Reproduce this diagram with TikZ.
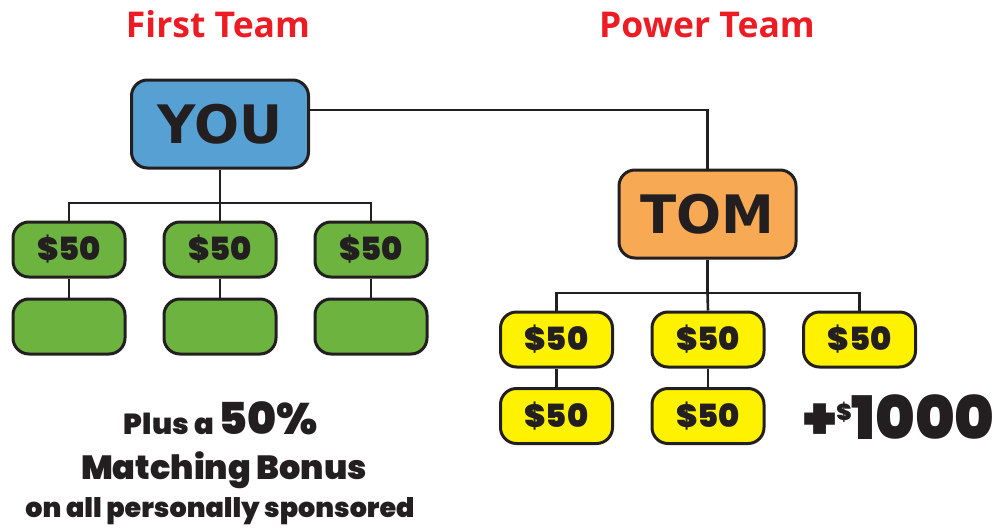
\documentclass[tikz,border=0pt]{standalone}
\usepackage{fontspec}
\setmainfont{DejaVu Sans}
\newfontfamily\titlefont{Open Sans}
\newfontfamily\boxfont{DejaVu Sans}
\newfontfamily\popfont{Poppins Black}
\definecolor{ink}{RGB}{35,31,32}
\definecolor{tred}{RGB}{237,28,36}
\definecolor{youblue}{RGB}{87,160,211}
\definecolor{tomorange}{RGB}{247,169,84}
\definecolor{lgreen}{RGB}{109,179,63}
\definecolor{lyellow}{RGB}{255,242,0}
\tikzset{
  x=1pt, y=-1pt,
  box/.style={draw=ink, line width=3pt, rounded corners=16pt, inner sep=0pt, text=ink},
  bigbox/.style={box, minimum width=177pt, minimum height=88pt, font=\boxfont\bfseries\fontsize{53}{53}\selectfont},
  smallbox/.style={box, minimum width=112pt, minimum height=55pt, font=\popfont\fontsize{32}{32}\selectfont},
  gbox/.style={smallbox, fill=lgreen},
  ybox/.style={smallbox, fill=lyellow},
  conn/.style={draw=ink, line width=2.6pt},
  title/.style={text=tred, font=\titlefont\bfseries\fontsize{35.5}{36}\selectfont, inner sep=0pt},
  bonus/.style={text=ink, inner sep=0pt, font=\popfont},
}
\begin{document}
\begin{tikzpicture}
\useasboundingbox (0,0) rectangle (1003,530);
\node[title, anchor=base] (t1) at (218,37) {First Team};
\node[title, anchor=base] (t2) at (707,37) {Power Team};

\node[bigbox, fill=youblue] (you) at (220,124) {YOU};
\node[bigbox, fill=tomorange] (tom) at (707.5,214) {TOM};

\node[gbox] (g1) at (69,249.5) {\$50};
\node[gbox] (g2) at (220,249.5) {\$50};
\node[gbox] (g3) at (371,249.5) {\$50};
\node[gbox] (h1) at (69,326.5) {};
\node[gbox] (h2) at (220,326.5) {};
\node[gbox] (h3) at (371,326.5) {};

\node[ybox] (y1) at (556.5,339.5) {\$50};
\node[ybox] (y2) at (708,339.5) {\$50};
\node[ybox] (y3) at (859.5,339.5) {\$50};
\node[ybox] (z1) at (556.5,416) {\$50};
\node[ybox] (z2) at (708,416) {\$50};

\coordinate (ya) at (220,203);
\coordinate (tb) at (707.5,293);

\draw[conn] (you.east |- 0,110) -| (tom.north);
\draw[conn] (you.south) -- (ya);
\draw[conn] (g1.north) |- (ya) -| (g3.north);
\draw[conn] (ya) -- (g2.north);
\draw[conn] (g1) -- (h1);
\draw[conn] (g2) -- (h2);
\draw[conn] (g3) -- (h3);

\draw[conn] (tom.south) -- (tb);
\draw[conn] (y1.north) |- (tb) -| (y3.north);
\draw[conn] (tb) -- (y2.north);
\draw[conn] (y1) -- (z1);
\draw[conn] (y2) -- (z2);

\node[bonus, anchor=base west] (plus) at (803,439) {\fontsize{60}{60}\selectfont +\raisebox{19pt}{\fontsize{23}{23}\selectfont\$}1000};

\node[bonus, anchor=base] (b1) at (221,434) {\fontsize{29}{29}\selectfont Plus a \fontsize{44}{44}\selectfont 50\%};
\node[bonus, anchor=base] (b2) at (224,479) {\fontsize{33.5}{33.5}\selectfont Matching Bonus};
\node[bonus, anchor=base] (b3) at (220,517) {\fontsize{27}{27}\selectfont on all personally sponsored};
\end{tikzpicture}
\end{document}
